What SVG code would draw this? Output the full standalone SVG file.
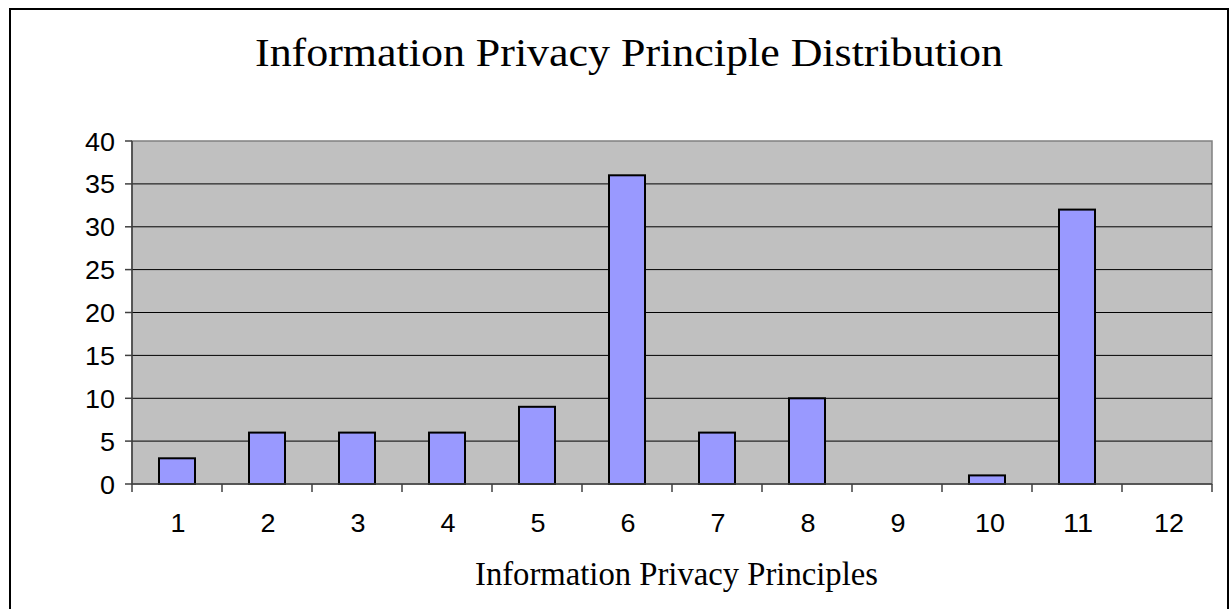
<svg xmlns="http://www.w3.org/2000/svg" width="1232" height="609" viewBox="0 0 1232 609">
<style>
.num{font-family:"Liberation Sans",Arial,sans-serif;font-size:26px;fill:#000}
.ttl{font-family:"Liberation Serif","Times New Roman",serif;fill:#000}
.grid{stroke:#000;stroke-width:1}
.tick{stroke:#404040;stroke-width:1.5}
.bar{fill:#9999FF;stroke:#000;stroke-width:2}
</style>
<rect x="0" y="0" width="1232" height="609" fill="#fff"/>
<rect id="frame" x="10" y="9" width="1218" height="620" fill="#fff" stroke="#000" stroke-width="2"/>
<g id="title"><text class="ttl" x="255" y="66" font-size="40" textLength="748" lengthAdjust="spacingAndGlyphs">Information Privacy Principle Distribution</text></g>
<g id="plot">
<rect x="132" y="141" width="1080" height="343" fill="#C0C0C0" stroke="#808080" stroke-width="1.5"/>
<g class="grid">
<line x1="132" y1="183.9" x2="1212" y2="183.9"/>
<line x1="132" y1="226.8" x2="1212" y2="226.8"/>
<line x1="132" y1="269.6" x2="1212" y2="269.6"/>
<line x1="132" y1="312.5" x2="1212" y2="312.5"/>
<line x1="132" y1="355.4" x2="1212" y2="355.4"/>
<line x1="132" y1="398.3" x2="1212" y2="398.3"/>
<line x1="132" y1="441.1" x2="1212" y2="441.1"/>
</g>
</g>
<g id="bars">
<rect class="bar" x="159" y="458.3" width="36" height="25.7"/>
<rect class="bar" x="249" y="432.6" width="36" height="51.4"/>
<rect class="bar" x="339" y="432.6" width="36" height="51.4"/>
<rect class="bar" x="429" y="432.6" width="36" height="51.4"/>
<rect class="bar" x="519" y="406.8" width="36" height="77.2"/>
<rect class="bar" x="609" y="175.3" width="36" height="308.7"/>
<rect class="bar" x="699" y="432.6" width="36" height="51.4"/>
<rect class="bar" x="789" y="398.3" width="36" height="85.7"/>
<rect class="bar" x="969" y="475.4" width="36" height="8.6"/>
<rect class="bar" x="1059" y="209.6" width="36" height="274.4"/>
</g>
<g id="axes">
<line x1="132" y1="141" x2="132" y2="484" stroke="#404040" stroke-width="1.5"/>
<line x1="132" y1="484" x2="1212" y2="484" stroke="#404040" stroke-width="1.5"/>
<g class="tick">
<line x1="125" y1="141" x2="132" y2="141"/>
<line x1="125" y1="183.9" x2="132" y2="183.9"/>
<line x1="125" y1="226.8" x2="132" y2="226.8"/>
<line x1="125" y1="269.6" x2="132" y2="269.6"/>
<line x1="125" y1="312.5" x2="132" y2="312.5"/>
<line x1="125" y1="355.4" x2="132" y2="355.4"/>
<line x1="125" y1="398.3" x2="132" y2="398.3"/>
<line x1="125" y1="441.1" x2="132" y2="441.1"/>
<line x1="125" y1="484" x2="132" y2="484"/>
<line x1="132" y1="484" x2="132" y2="492"/>
<line x1="222" y1="484" x2="222" y2="492"/>
<line x1="312" y1="484" x2="312" y2="492"/>
<line x1="402" y1="484" x2="402" y2="492"/>
<line x1="492" y1="484" x2="492" y2="492"/>
<line x1="582" y1="484" x2="582" y2="492"/>
<line x1="672" y1="484" x2="672" y2="492"/>
<line x1="762" y1="484" x2="762" y2="492"/>
<line x1="852" y1="484" x2="852" y2="492"/>
<line x1="942" y1="484" x2="942" y2="492"/>
<line x1="1032" y1="484" x2="1032" y2="492"/>
<line x1="1122" y1="484" x2="1122" y2="492"/>
<line x1="1212" y1="484" x2="1212" y2="492"/>
</g>
</g>
<g id="ylabels" class="num" text-anchor="end">
<text x="115" y="150.5" textLength="30" lengthAdjust="spacingAndGlyphs">40</text>
<text x="115" y="193.4" textLength="30" lengthAdjust="spacingAndGlyphs">35</text>
<text x="115" y="236.3" textLength="30" lengthAdjust="spacingAndGlyphs">30</text>
<text x="115" y="279.1" textLength="30" lengthAdjust="spacingAndGlyphs">25</text>
<text x="115" y="322" textLength="30" lengthAdjust="spacingAndGlyphs">20</text>
<text x="115" y="364.9" textLength="30" lengthAdjust="spacingAndGlyphs">15</text>
<text x="115" y="407.8" textLength="30" lengthAdjust="spacingAndGlyphs">10</text>
<text x="115" y="450.6" textLength="15" lengthAdjust="spacingAndGlyphs">5</text>
<text x="115" y="493.5" textLength="15" lengthAdjust="spacingAndGlyphs">0</text>
</g>
<g id="xlabels" class="num" text-anchor="middle">
<text x="178" y="532" textLength="15" lengthAdjust="spacingAndGlyphs">1</text>
<text x="268" y="532" textLength="15" lengthAdjust="spacingAndGlyphs">2</text>
<text x="358" y="532" textLength="15" lengthAdjust="spacingAndGlyphs">3</text>
<text x="448" y="532" textLength="15" lengthAdjust="spacingAndGlyphs">4</text>
<text x="538" y="532" textLength="15" lengthAdjust="spacingAndGlyphs">5</text>
<text x="628" y="532" textLength="15" lengthAdjust="spacingAndGlyphs">6</text>
<text x="718" y="532" textLength="15" lengthAdjust="spacingAndGlyphs">7</text>
<text x="808" y="532" textLength="15" lengthAdjust="spacingAndGlyphs">8</text>
<text x="898" y="532" textLength="15" lengthAdjust="spacingAndGlyphs">9</text>
<text x="990" y="532" textLength="30" lengthAdjust="spacingAndGlyphs">10</text>
<text x="1078" y="532" textLength="30" lengthAdjust="spacingAndGlyphs">11</text>
<text x="1169" y="532" textLength="30" lengthAdjust="spacingAndGlyphs">12</text>
</g>
<g id="xtitle"><text class="ttl" x="475" y="585" font-size="33" textLength="403" lengthAdjust="spacingAndGlyphs">Information Privacy Principles</text></g>
</svg>
